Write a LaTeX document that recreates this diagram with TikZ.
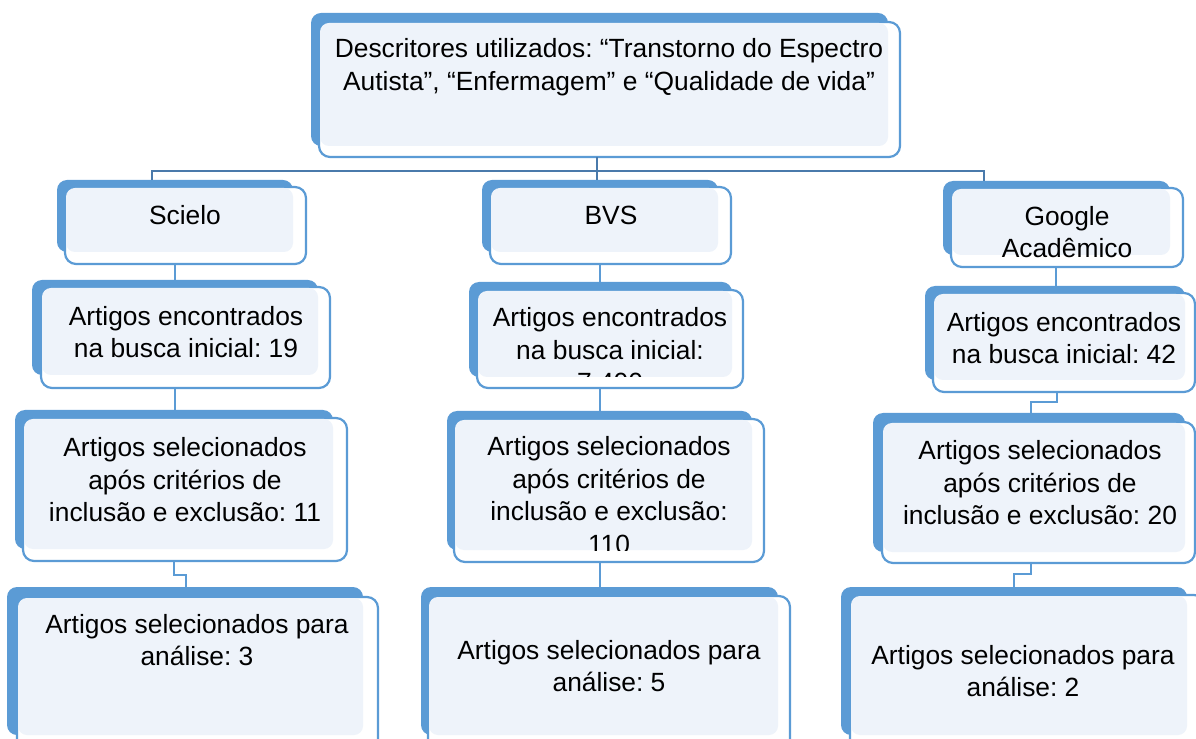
\documentclass[tikz,border=0pt]{standalone}
\usepackage{fontspec}
\setmainfont{Liberation Sans}
\usetikzlibrary{fit}
\definecolor{azul}{HTML}{5B9BD5}
\definecolor{azulesc}{HTML}{4A7AAB}
\definecolor{claro}{HTML}{EEF3FA}
\frenchspacing

\begin{document}
\begin{tikzpicture}[x=0.02cm, y=-0.02cm,
    fundo/.style={fill=azul, rounded corners=0.2cm, inner sep=0pt, outer sep=0pt},
    frente/.style={draw=azul, fill=white, line width=1.25pt, rounded corners=0.22cm, inner sep=0pt, outer sep=0pt},
    miolo/.style={fill=claro, rounded corners=0.18cm, inner sep=0pt, outer sep=0pt},
    texto/.style={align=center, font=\fontsize{15}{18.5}\selectfont, inner sep=0pt},
    liga/.style={azul, line width=1.1pt},
    tronco/.style={azulesc, line width=1.2pt}]
  \useasboundingbox (0,0) rectangle (1196,739);

  % descritores
  \node[fundo, fit={(311,13) (888,146)}] (topob) {};
  \node[frente, fit={(319,22) (900,157)}] (topo) {};
  \node[miolo, fit={([shift={(1,1)}]topo.north west) (topob.south east)}] (topom) {};
  \node[texto] (topot) at (609,67) {Descritores utilizados: “Transtorno do Espectro\\Autista”, “Enfermagem” e “Qualidade de vida”};

  % coluna Scielo
  \node[fundo, fit={(57,180) (293,252)}] (scielo1b) {};
  \node[frente, fit={(65,187) (306,264)}] (scielo1) {};
  \node[miolo, fit={([shift={(1,1)}]scielo1.north west) (scielo1b.south east)}] (scielo1m) {};
  \node[texto] (scielo1t) at (185,215) {Scielo};

  \node[fundo, fit={(32,280) (318,375)}] (scielo2b) {};
  \node[frente, fit={(41,287) (330,388)}] (scielo2) {};
  \node[miolo, fit={([shift={(1,1)}]scielo2.north west) (scielo2b.south east)}] (scielo2m) {};
  \node[texto] (scielo2t) at (186,332) {Artigos encontrados\\na busca inicial: 19};

  \node[fundo, fit={(15,410) (333,549)}] (scielo3b) {};
  \node[frente, fit={(23,418) (347,561)}] (scielo3) {};
  \node[miolo, fit={([shift={(1,1)}]scielo3.north west) (scielo3b.south east)}] (scielo3m) {};
  \node[texto] (scielo3t) at (185,480) {Artigos selecionados\\após critérios de\\inclusão e exclusão: 11};

  \node[fundo, fit={(7,587) (363,735)}] (scielo4b) {};
  \node[frente, fit={(17,597) (378,765)}] (scielo4) {};
  \node[miolo, fit={([shift={(1,1)}]scielo4.north west) (scielo4b.south east)}] (scielo4m) {};
  \node[texto] (scielo4t) at (197,640) {Artigos selecionados para\\análise: 3};

  % coluna BVS
  \node[fundo, fit={(482,180) (718,252)}] (bvs1b) {};
  \node[frente, fit={(490,187) (731,264)}] (bvs1) {};
  \node[miolo, fit={([shift={(1,1)}]bvs1.north west) (bvs1b.south east)}] (bvs1m) {};
  \node[texto] (bvs1t) at (611,215) {BVS};

  \node[fundo, fit={(469,282) (732,377)}] (bvs2b) {};
  \node[frente, fit={(477,290) (743,388)}] (bvs2) {};
  \node[miolo, fit={([shift={(1,1)}]bvs2.north west) (bvs2b.south east)}] (bvs2m) {};
  \begin{scope}
    \clip[rounded corners=0.18cm] (bvs2m.north west) rectangle (bvs2m.south east);
    \node[texto] (bvs2t) at (610,350) {Artigos encontrados\\na busca inicial:\\7.400};
  \end{scope}

  \node[fundo, fit={(447,411) (752,550)}] (bvs3b) {};
  \node[frente, fit={(454,419) (764,562)}] (bvs3) {};
  \node[miolo, fit={([shift={(1,1)}]bvs3.north west) (bvs3b.south east)}] (bvs3m) {};
  \begin{scope}
    \clip[rounded corners=0.18cm] (bvs3m.north west) rectangle (bvs3m.south east);
    \node[texto] (bvs3t) at (609,495) {Artigos selecionados\\após critérios de\\inclusão e exclusão:\\110};
  \end{scope}

  \node[fundo, fit={(421,587) (778,735)}] (bvs4b) {};
  \node[frente, fit={(428,596) (790,765)}] (bvs4) {};
  \node[miolo, fit={([shift={(1,1)}]bvs4.north west) (bvs4b.south east)}] (bvs4m) {};
  \node[texto] (bvs4t) at (609,666) {Artigos selecionados para\\análise: 5};

  % coluna Google
  \node[fundo, fit={(943,181) (1170,255)}] (google1b) {};
  \node[frente, fit={(951,188) (1183,267)}] (google1) {};
  \node[miolo, fit={([shift={(1,1)}]google1.north west) (google1b.south east)}] (google1m) {};
  \node[texto] (google1t) at (1067,232) {Google\\Acadêmico};

  \node[fundo, fit={(925,286) (1185,380)}] (google2b) {};
  \node[frente, fit={(933,293) (1195,392)}] (google2) {};
  \node[miolo, fit={([shift={(1,1)}]google2.north west) (google2b.south east)}] (google2m) {};
  \node[texto] (google2t) at (1064,338) {Artigos encontrados\\na busca inicial: 42};

  \node[fundo, fit={(873,413) (1185,552)}] (google3b) {};
  \node[frente, fit={(882,422) (1195,563)}] (google3) {};
  \node[miolo, fit={([shift={(1,1)}]google3.north west) (google3b.south east)}] (google3m) {};
  \node[texto] (google3t) at (1040,483) {Artigos selecionados\\após critérios de\\inclusão e exclusão: 20};

  \node[fundo, fit={(841,587) (1187,735)}] (google4b) {};
  \node[frente, fit={(850,595) (1205,765)}] (google4) {};
  \node[miolo, fit={([shift={(1,1)}]google4.north west) (google4b.south east)}] (google4m) {};
  \node[texto] (google4t) at (1023,671) {Artigos selecionados para\\análise: 2};

  % ligacoes
  \coordinate (ramo) at (597,171);
  \draw[tronco] (597,0 |- topo.south) -- (597,0 |- bvs1b.north);
  \draw[tronco] (152,0 |- scielo1b.north) |- (ramo) -| (984,0 |- google1b.north);

  \draw[liga] (175,0 |- scielo1.south) -- (175,0 |- scielo2b.north);
  \draw[liga] (175,0 |- scielo2.south) -- (175,0 |- scielo3b.north);
  \draw[liga] (174,0 |- scielo3.south) -- ++(0,14) -| (186,0 |- scielo4b.north);

  \draw[liga] (600,0 |- bvs1.south) -- (600,0 |- bvs2b.north);
  \draw[liga] (600,0 |- bvs2.south) -- (600,0 |- bvs3b.north);
  \draw[liga] (600,0 |- bvs3.south) -- (600,0 |- bvs4b.north);

  \draw[liga] (1056,0 |- google1.south) -- (1056,0 |- google2b.north);
  \draw[liga] (1057,0 |- google2.south) -- ++(0,10) -| (1031,0 |- google3b.north);
  \draw[liga] (1031,0 |- google3.south) -- ++(0,11) -| (1014,0 |- google4b.north);
\end{tikzpicture}
\end{document}
